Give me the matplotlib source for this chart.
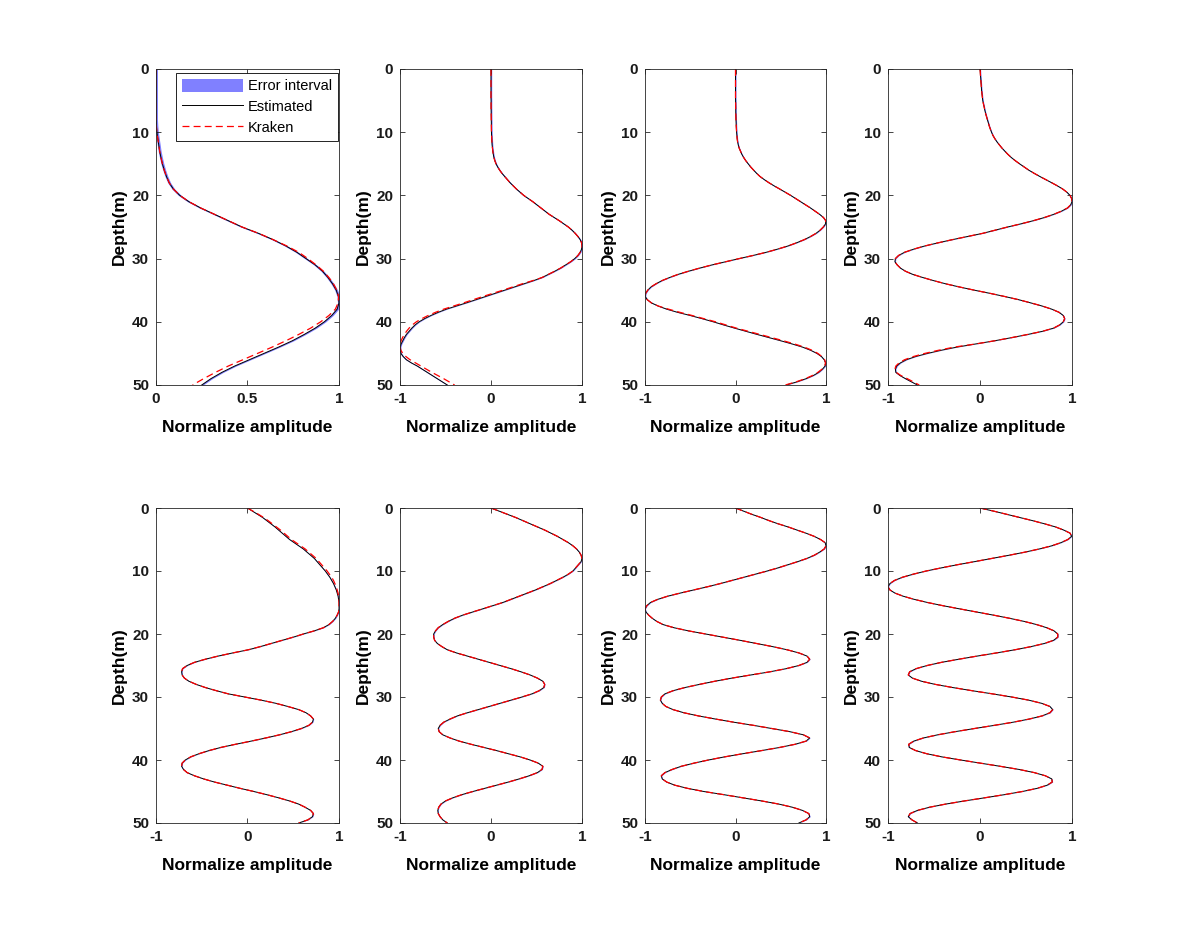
import numpy as np
import matplotlib.pyplot as plt
from matplotlib.patches import Patch
from matplotlib.lines import Line2D

plt.rcParams['font.family'] = ['Liberation Sans', 'DejaVu Sans']
plt.rcParams['axes.unicode_minus'] = False
plt.rcParams['lines.scale_dashes'] = False

# depth grids (m)
depth_1m = np.arange(0, 51, 1.0)
depth_half = np.arange(0, 50.5, 0.5)

# mode 1, sampled every 1 m
est1 = [0, 0, 0, 0, 0, 0, 0, 0, 0, 0.002,
        0.005, 0.01, 0.015, 0.02, 0.027, 0.035, 0.045, 0.057, 0.072, 0.095,
        0.13, 0.18, 0.245, 0.32, 0.395, 0.47, 0.56, 0.64, 0.71, 0.77,
        0.82, 0.87, 0.91, 0.94, 0.965, 0.985, 0.997, 1.0, 0.99, 0.96,
        0.92, 0.87, 0.81, 0.745, 0.67, 0.59, 0.51, 0.43, 0.36, 0.3,
        0.25]
krk1 = [0, 0, 0, 0, 0, 0, 0, 0, 0, 0.002,
        0.005, 0.01, 0.015, 0.02, 0.027, 0.035, 0.045, 0.057, 0.072, 0.095,
        0.13, 0.18, 0.245, 0.32, 0.395, 0.47, 0.56, 0.64, 0.715, 0.78,
        0.83, 0.875, 0.915, 0.945, 0.97, 0.988, 0.998, 0.995, 0.98, 0.945,
        0.9, 0.845, 0.78, 0.71, 0.635, 0.555, 0.475, 0.395, 0.325, 0.26,
        0.2]

# modes 2-8, sampled every 0.5 m
est2 = [0, 0, 0, 0, 0, 0, 0, 0, 0, 0,
        0.001, 0.001, 0.001, 0.0015, 0.002, 0.0025, 0.003, 0.0035, 0.004, 0.0045,
        0.005, 0.0065, 0.008, 0.01, 0.012, 0.016, 0.02, 0.025, 0.032, 0.042,
        0.055, 0.073, 0.095, 0.12, 0.15, 0.18, 0.21, 0.245, 0.28, 0.32,
        0.36, 0.41, 0.46, 0.505, 0.55, 0.595, 0.64, 0.695, 0.75, 0.8,
        0.85, 0.89, 0.925, 0.955, 0.98, 0.995, 1.0, 0.995, 0.98, 0.955,
        0.92, 0.875, 0.82, 0.765, 0.7, 0.63, 0.56, 0.465, 0.36, 0.255,
        0.15, 0.045, -0.06, -0.165, -0.27, -0.38, -0.49, -0.58, -0.66, -0.73,
        -0.79, -0.835, -0.87, -0.9, -0.93, -0.952, -0.97, -0.988, -0.998, -0.998,
        -0.99, -0.965, -0.93, -0.875, -0.81, -0.755, -0.7, -0.645, -0.59, -0.535,
        -0.48]
krk2 = [0, 0, 0, 0, 0, 0, 0, 0, 0, 0,
        0.001, 0.001, 0.001, 0.0015, 0.002, 0.0025, 0.003, 0.0035, 0.004, 0.0045,
        0.005, 0.0065, 0.008, 0.01, 0.012, 0.016, 0.02, 0.025, 0.032, 0.042,
        0.055, 0.073, 0.095, 0.12, 0.15, 0.18, 0.21, 0.245, 0.28, 0.32,
        0.36, 0.41, 0.46, 0.505, 0.55, 0.595, 0.64, 0.695, 0.75, 0.8,
        0.85, 0.89, 0.925, 0.955, 0.98, 0.995, 1.0, 0.995, 0.98, 0.955,
        0.92, 0.875, 0.82, 0.765, 0.7, 0.63, 0.56, 0.455, 0.34, 0.235,
        0.13, 0.02, -0.09, -0.195, -0.3, -0.41, -0.52, -0.61, -0.69, -0.76,
        -0.82, -0.865, -0.9, -0.928, -0.952, -0.972, -0.988, -0.997, -0.999, -0.99,
        -0.97, -0.935, -0.89, -0.83, -0.77, -0.71, -0.65, -0.585, -0.52, -0.46,
        -0.4]

est3 = [0, 0, 0, 0, 0, 0, 0, 0, 0, 0,
        0.001, 0.0015, 0.002, 0.0025, 0.003, 0.004, 0.005, 0.0065, 0.008, 0.01,
        0.012, 0.015, 0.018, 0.023, 0.03, 0.04, 0.055, 0.07, 0.09, 0.113,
        0.14, 0.168, 0.2, 0.233, 0.27, 0.318, 0.37, 0.428, 0.49, 0.55,
        0.61, 0.665, 0.72, 0.775, 0.83, 0.88, 0.93, 0.972, 0.997, 0.995,
        0.97, 0.935, 0.89, 0.83, 0.76, 0.675, 0.58, 0.465, 0.34, 0.195,
        0.04, -0.11, -0.26, -0.395, -0.52, -0.635, -0.73, -0.815, -0.88, -0.935,
        -0.97, -0.993, -0.998, -0.975, -0.93, -0.855, -0.76, -0.64, -0.5, -0.37,
        -0.245, -0.13, -0.01, 0.115, 0.24, 0.37, 0.5, 0.625, 0.74, 0.83,
        0.9, 0.95, 0.98, 0.995, 0.99, 0.96, 0.92, 0.86, 0.78, 0.68,
        0.56]
krk3 = [0, 0, 0, 0, 0, 0, 0, 0, 0, 0,
        0.001, 0.0015, 0.002, 0.0025, 0.003, 0.004, 0.005, 0.0065, 0.008, 0.01,
        0.012, 0.015, 0.018, 0.023, 0.03, 0.04, 0.055, 0.07, 0.09, 0.113,
        0.14, 0.168, 0.2, 0.233, 0.27, 0.318, 0.37, 0.428, 0.49, 0.55,
        0.61, 0.665, 0.72, 0.775, 0.83, 0.88, 0.93, 0.972, 0.997, 0.995,
        0.97, 0.935, 0.89, 0.83, 0.76, 0.675, 0.58, 0.465, 0.34, 0.195,
        0.04, -0.11, -0.26, -0.395, -0.52, -0.635, -0.73, -0.815, -0.88, -0.935,
        -0.97, -0.993, -0.998, -0.975, -0.93, -0.855, -0.74, -0.615, -0.48, -0.35,
        -0.22, -0.105, 0.01, 0.14, 0.27, 0.4, 0.53, 0.65, 0.76, 0.845,
        0.91, 0.955, 0.985, 0.995, 0.985, 0.955, 0.91, 0.85, 0.77, 0.67,
        0.55]

est4 = [0, 0.003, 0.005, 0.008, 0.01, 0.013, 0.015, 0.018, 0.022, 0.026,
        0.03, 0.037, 0.045, 0.052, 0.06, 0.07, 0.08, 0.09, 0.1, 0.112,
        0.125, 0.14, 0.16, 0.183, 0.21, 0.238, 0.27, 0.303, 0.34, 0.383,
        0.43, 0.48, 0.53, 0.588, 0.65, 0.715, 0.78, 0.843, 0.9, 0.945,
        0.978, 0.996, 1.0, 0.985, 0.95, 0.885, 0.8, 0.7, 0.58, 0.445,
        0.3, 0.165, 0.03, -0.135, -0.3, -0.455, -0.6, -0.72, -0.82, -0.885,
        -0.92, -0.925, -0.9, -0.865, -0.81, -0.73, -0.62, -0.5, -0.37, -0.22,
        -0.06, 0.11, 0.27, 0.42, 0.55, 0.675, 0.78, 0.86, 0.905, 0.92,
        0.905, 0.865, 0.8, 0.68, 0.52, 0.345, 0.16, -0.045, -0.25, -0.42,
        -0.57, -0.7, -0.8, -0.865, -0.905, -0.92, -0.915, -0.87, -0.81, -0.745,
        -0.68]
krk4 = [0, 0.003, 0.005, 0.008, 0.01, 0.013, 0.015, 0.018, 0.022, 0.026,
        0.03, 0.037, 0.045, 0.052, 0.06, 0.07, 0.08, 0.09, 0.1, 0.112,
        0.125, 0.14, 0.16, 0.183, 0.21, 0.238, 0.27, 0.303, 0.34, 0.383,
        0.43, 0.48, 0.53, 0.588, 0.65, 0.715, 0.78, 0.843, 0.9, 0.945,
        0.978, 0.996, 1.0, 0.985, 0.95, 0.885, 0.8, 0.7, 0.58, 0.445,
        0.3, 0.165, 0.03, -0.135, -0.3, -0.455, -0.6, -0.72, -0.82, -0.885,
        -0.92, -0.925, -0.9, -0.865, -0.81, -0.73, -0.62, -0.5, -0.37, -0.22,
        -0.06, 0.11, 0.27, 0.42, 0.55, 0.675, 0.78, 0.86, 0.905, 0.92,
        0.905, 0.865, 0.8, 0.68, 0.52, 0.345, 0.16, -0.045, -0.28, -0.45,
        -0.6, -0.725, -0.82, -0.88, -0.915, -0.925, -0.91, -0.86, -0.79, -0.725,
        -0.66]

est5 = [0, 0.055, 0.11, 0.165, 0.21, 0.255, 0.3, 0.34, 0.38, 0.42,
        0.46, 0.51, 0.56, 0.61, 0.65, 0.69, 0.73, 0.76, 0.79, 0.82,
        0.85, 0.875, 0.9, 0.92, 0.94, 0.955, 0.97, 0.98, 0.99, 0.995,
        1.0, 1.0, 1.0, 0.995, 0.98, 0.96, 0.93, 0.89, 0.83, 0.73,
        0.61, 0.5, 0.38, 0.26, 0.14, 0.01, -0.16, -0.32, -0.46, -0.58,
        -0.66, -0.71, -0.72, -0.715, -0.69, -0.64, -0.56, -0.46, -0.34, -0.21,
        -0.03, 0.15, 0.31, 0.44, 0.56, 0.64, 0.69, 0.72, 0.71, 0.67,
        0.59, 0.48, 0.35, 0.2, 0.04, -0.13, -0.29, -0.42, -0.53, -0.62,
        -0.68, -0.715, -0.72, -0.7, -0.66, -0.58, -0.48, -0.36, -0.22, -0.08,
        0.07, 0.21, 0.34, 0.46, 0.56, 0.63, 0.69, 0.72, 0.71, 0.66,
        0.56]
krk5 = [0, 0.06, 0.12, 0.175, 0.225, 0.27, 0.315, 0.36, 0.4, 0.44,
        0.48, 0.53, 0.58, 0.63, 0.67, 0.71, 0.75, 0.78, 0.81, 0.84,
        0.87, 0.895, 0.92, 0.94, 0.955, 0.97, 0.98, 0.99, 0.995, 1.0,
        1.0, 1.0, 1.0, 0.995, 0.98, 0.96, 0.93, 0.89, 0.83, 0.73,
        0.61, 0.5, 0.38, 0.26, 0.14, 0.01, -0.16, -0.32, -0.46, -0.58,
        -0.66, -0.71, -0.72, -0.715, -0.69, -0.64, -0.56, -0.46, -0.34, -0.21,
        -0.03, 0.15, 0.31, 0.44, 0.56, 0.64, 0.69, 0.72, 0.71, 0.67,
        0.59, 0.48, 0.35, 0.2, 0.04, -0.13, -0.29, -0.42, -0.53, -0.62,
        -0.68, -0.715, -0.72, -0.7, -0.66, -0.58, -0.48, -0.36, -0.22, -0.08,
        0.07, 0.21, 0.34, 0.46, 0.56, 0.63, 0.69, 0.72, 0.71, 0.66,
        0.56]

est6 = [0, 0.09, 0.18, 0.27, 0.35, 0.43, 0.51, 0.59, 0.66, 0.73,
        0.79, 0.85, 0.9, 0.94, 0.97, 0.99, 1.0, 0.99, 0.96, 0.93,
        0.9, 0.85, 0.79, 0.72, 0.65, 0.57, 0.49, 0.4, 0.31, 0.22,
        0.13, 0.02, -0.09, -0.2, -0.31, -0.4, -0.47, -0.53, -0.58, -0.61,
        -0.63, -0.63, -0.62, -0.59, -0.54, -0.48, -0.38, -0.26, -0.14, -0.02,
        0.1, 0.22, 0.33, 0.43, 0.51, 0.57, 0.59, 0.58, 0.53, 0.45,
        0.34, 0.22, 0.1, -0.02, -0.14, -0.26, -0.37, -0.45, -0.52, -0.56,
        -0.58, -0.57, -0.53, -0.45, -0.35, -0.22, -0.08, 0.06, 0.19, 0.32,
        0.43, 0.52, 0.57, 0.56, 0.51, 0.42, 0.31, 0.19, 0.06, -0.07,
        -0.2, -0.32, -0.42, -0.5, -0.55, -0.575, -0.585, -0.58, -0.56, -0.53,
        -0.48]

est7 = [0, 0.09, 0.18, 0.28, 0.37, 0.47, 0.58, 0.68, 0.78, 0.87,
        0.94, 0.99, 1.0, 0.98, 0.93, 0.87, 0.79, 0.69, 0.58, 0.47,
        0.35, 0.22, 0.09, -0.04, -0.17, -0.31, -0.46, -0.61, -0.75, -0.86,
        -0.94, -0.98, -1.0, -0.99, -0.96, -0.92, -0.87, -0.8, -0.68, -0.52,
        -0.33, -0.14, 0.05, 0.23, 0.41, 0.57, 0.7, 0.79, 0.82, 0.79,
        0.7, 0.56, 0.38, 0.17, -0.04, -0.23, -0.4, -0.56, -0.69, -0.78,
        -0.82, -0.83, -0.81, -0.77, -0.69, -0.57, -0.41, -0.22, -0.02, 0.2,
        0.4, 0.6, 0.75, 0.82, 0.78, 0.66, 0.49, 0.29, 0.08, -0.12,
        -0.3, -0.46, -0.6, -0.7, -0.78, -0.82, -0.81, -0.76, -0.67, -0.53,
        -0.35, -0.13, 0.08, 0.29, 0.48, 0.63, 0.74, 0.81, 0.82, 0.78,
        0.7]

est8 = [0, 0.15, 0.29, 0.43, 0.57, 0.7, 0.82, 0.91, 0.98, 0.995,
        0.955, 0.88, 0.78, 0.645, 0.49, 0.315, 0.13, -0.055, -0.245, -0.42,
        -0.585, -0.725, -0.845, -0.93, -0.98, -1.0, -0.98, -0.925, -0.835, -0.715,
        -0.57, -0.405, -0.225, -0.04, 0.145, 0.32, 0.48, 0.615, 0.725, 0.805,
        0.845, 0.845, 0.8, 0.7, 0.555, 0.38, 0.18, -0.03, -0.23, -0.42,
        -0.575, -0.695, -0.765, -0.78, -0.735, -0.635, -0.485, -0.295, -0.085, 0.135,
        0.345, 0.53, 0.67, 0.76, 0.79, 0.76, 0.675, 0.535, 0.36, 0.155,
        -0.06, -0.27, -0.46, -0.615, -0.72, -0.775, -0.77, -0.7, -0.58, -0.415,
        -0.21, 0.005, 0.22, 0.425, 0.59, 0.71, 0.78, 0.785, 0.73, 0.62,
        0.46, 0.265, 0.05, -0.17, -0.375, -0.55, -0.68, -0.76, -0.78, -0.74,
        -0.68]

estimated = [est1, est2, est3, est4, est5, est6, est7, est8]
kraken = [krk1, krk2, krk3, krk4, krk5, est6, est7, est8]
depths = [depth_1m] + [depth_half] * 7
err_width = [0.008, 0.008, 0.006, 0.006, 0.005, 0.005, 0.005, 0.005]

xlims = [(0, 1)] + [(-1, 1)] * 7
xtick_vals = [[0, 0.5, 1]] + [[-1, 0, 1]] * 7
xtick_text = [['0', '0.5', '1']] + [['-1', '0', '1']] * 7
ytick_vals = [0, 10, 20, 30, 40, 50]
ytick_text = ['0', '10', '20', '30', '40', '50']

fig = plt.figure(figsize=(11.83, 9.25), dpi=100)
lefts = [156, 400, 645, 888]
widths = [183, 182, 181, 184]
tops = [69, 508]
heights = [316, 315]
axcol = '#262626'
blue = '#8080ff'
dash = (0, (5, 3))

for i in range(8):
    r, c = divmod(i, 4)
    ax = fig.add_axes([lefts[c] / 1183, (925 - tops[r] - heights[r]) / 925,
                       widths[c] / 1183, heights[r] / 925])
    z = depths[i]
    e = np.array(estimated[i])
    ax.fill_betweenx(z, e - err_width[i], e + err_width[i], color=blue, lw=0)
    ax.plot(e, z, color='k', lw=0.7)
    ax.plot(kraken[i], z, color='r', lw=0.9, ls=dash)

    ax.set_xlim(xlims[i])
    ax.set_ylim(50, 0)
    ax.set_xticks(xtick_vals[i])
    ax.set_xticklabels(xtick_text[i], fontweight='bold')
    ax.set_yticks(ytick_vals)
    ax.set_yticklabels(ytick_text, fontweight='bold')
    ax.tick_params(direction='in', length=3.5, width=0.6, top=True, right=True,
                   labelsize=11, colors=axcol, labelcolor='#1a1a1a', pad=5)
    for s in ax.spines.values():
        s.set_linewidth(0.6)
        s.set_color(axcol)
    ax.set_xlabel('Normalize amplitude', fontsize=12.5, fontweight='bold', labelpad=10)
    ax.set_ylabel('Depth(m)', fontsize=12.5, fontweight='bold', labelpad=4)

    if i == 0:
        handles = [Patch(facecolor=blue, edgecolor='none'),
                   Line2D([], [], color='k', lw=0.7),
                   Line2D([], [], color='r', lw=0.9, ls=dash)]
        leg = ax.legend(handles, ['Error interval', 'Estimated', 'Kraken'],
                        loc='upper right', bbox_to_anchor=(0.995, 0.987),
                        fontsize=10.5, fancybox=False, edgecolor='k',
                        framealpha=1, handlelength=4.2, handleheight=1.0,
                        borderaxespad=0, borderpad=0.4, labelspacing=0.42,
                        handletextpad=0.35)
        leg.get_frame().set_linewidth(0.6)

fig.savefig('out.png', dpi=100)
